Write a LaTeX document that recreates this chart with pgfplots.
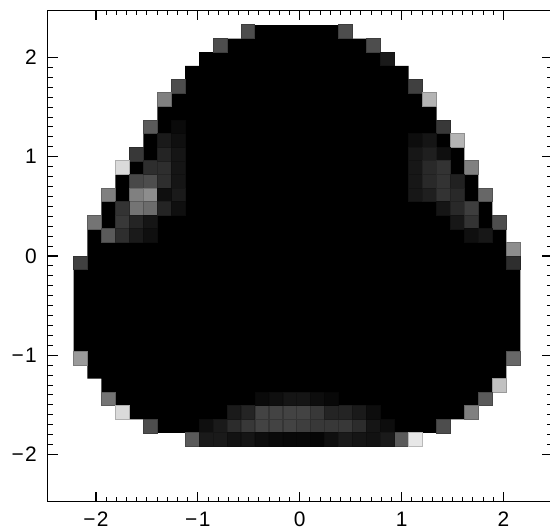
\documentclass[border=0pt]{standalone}
\usepackage{fontspec}
\setmainfont{Liberation Sans}
\usepackage{pgfplots}
\pgfplotsset{compat=1.18}
\begin{document}
\begin{tikzpicture}[x=1bp,y=1bp]
\useasboundingbox (0,0) rectangle (550,531);
\begin{axis}[
  at={(47.55bp,29.35bp)}, anchor=south west,
  scale only axis, width=504.4bp, height=491.3bp,
  xmin=-2.475, xmax=2.475, ymin=-2.475, ymax=2.475,
  xtick={-2,-1,0,1,2}, ytick={-2,-1,0,1,2},
  xticklabels={−\kern1.5pt 2,−\kern1.5pt 1,0,1,2},
  yticklabels={−\kern1.5pt 2,−\kern1.5pt 1,0,1,2},
  minor x tick num=9, minor y tick num=9,
  tick align=inside, tickpos=both,
  major tick length=10bp, minor tick length=5bp,
  tick style={black,line width=1.1bp},
  minor tick style={black,line width=1bp},
  axis line style={line width=1.1bp},
  axis on top,
  ticklabel style={font=\fontsize{21}{25}\selectfont},
  xticklabel style={inner sep=0pt,yshift=-10.5bp},
  yticklabel style={inner sep=0pt,xshift=-10.5bp},
  colormap={gr}{gray=(0) gray=(1)},
  point meta min=0, point meta max=1,
]
\addplot[fill=black,draw=none,forget plot] coordinates {
(-0.439,2.327)(0.383,2.327)(0.383,2.190)(0.657,2.190)(0.657,2.053)(0.931,2.053)(0.931,1.916)
(1.068,1.916)(1.068,1.642)(1.205,1.642)(1.205,1.505)(1.342,1.505)(1.342,1.231)(1.479,1.231)
(1.479,1.094)(1.616,1.094)(1.616,0.820)(1.753,0.820)(1.753,0.546)(1.890,0.546)(1.890,0.272)
(2.027,0.272)(2.027,-0.002)(2.164,-0.002)(2.164,-0.961)(2.027,-0.961)(2.027,-1.235)(1.890,-1.235)
(1.890,-1.372)(1.753,-1.372)(1.753,-1.509)(1.616,-1.509)(1.616,-1.646)(1.342,-1.646)(1.342,-1.783)
(0.931,-1.783)(0.931,-1.920)(-0.987,-1.920)(-0.987,-1.783)(-1.398,-1.783)(-1.398,-1.646)(-1.672,-1.646)
(-1.672,-1.509)(-1.809,-1.509)(-1.809,-1.372)(-1.946,-1.372)(-1.946,-1.235)(-2.083,-1.235)(-2.083,-0.961)
(-2.220,-0.961)(-2.220,-0.002)(-2.083,-0.002)(-2.083,0.272)(-1.946,0.272)(-1.946,0.546)(-1.809,0.546)
(-1.809,0.820)(-1.672,0.820)(-1.672,0.957)(-1.535,0.957)(-1.535,1.231)(-1.398,1.231)(-1.398,1.505)
(-1.261,1.505)(-1.261,1.642)(-1.124,1.642)(-1.124,1.916)(-0.987,1.916)(-0.987,2.053)(-0.713,2.053)
(-0.713,2.190)(-0.439,2.190)(-0.439,2.327)
} -- cycle;
\addplot[scatter,only marks,mark=square*,mark size=6.9bp,point meta=explicit,
  mark options={line width=0pt},forget plot] table[x index=0,y index=1,meta index=2] {
-0.5075 2.2585 0.30
0.4515 2.2585 0.30
-0.7815 2.1215 0.30
0.7255 2.1215 0.30
0.8625 1.9845 0.10
-1.1925 1.7105 0.30
1.1365 1.7105 0.25
-1.3295 1.5735 0.50
1.2735 1.5735 0.70
-1.4665 1.2995 0.35
1.4105 1.2995 0.22
1.5475 1.1625 0.70
-1.6035 1.0255 0.22
-1.7405 0.8885 0.85
1.6845 0.8885 0.50
-1.8775 0.6145 0.50
1.8215 0.6145 0.40
-2.0145 0.3405 0.45
1.9585 0.3405 0.30
2.0955 0.0665 0.55
-2.1515 -0.0705 0.25
2.0955 -0.0705 0.18
-2.1515 -1.0295 0.60
2.0955 -1.0295 0.40
1.9585 -1.3035 0.75
-1.8775 -1.4405 0.45
1.8215 -1.4405 0.35
-1.7405 -1.5775 0.85
1.6845 -1.5775 0.50
-1.4665 -1.7145 0.30
1.4105 -1.7145 0.30
-1.0555 -1.8515 0.35
0.9995 -1.8515 0.35
1.1365 -1.8515 0.90
-1.6035 0.7515 0.28
-1.4665 0.7515 0.30
-1.6035 0.6145 0.50
-1.4665 0.6145 0.55
-1.6035 0.4775 0.45
-1.4665 0.4775 0.42
-1.7405 0.4775 0.20
-1.7405 0.3405 0.22
-1.8775 0.2035 0.35
-1.7405 0.2035 0.18
-1.6035 0.3405 0.14
-1.4665 0.3405 0.08
-1.6035 0.2035 0.10
-1.4665 0.2035 0.06
-1.4665 0.8885 0.18
-1.3295 0.8885 0.18
-1.3295 0.7515 0.18
-1.1925 0.8885 0.08
-1.1925 0.7515 0.08
-1.1925 0.6145 0.10
-1.3295 0.6145 0.06
-1.3295 0.4775 0.14
-1.1925 0.4775 0.06
-1.3295 1.0255 0.14
-1.3295 1.1625 0.10
-1.1925 1.0255 0.08
-1.1925 1.1625 0.06
-1.1925 1.2995 0.04
1.1365 1.1625 0.05
1.2735 1.1625 0.08
1.4105 1.0255 0.06
1.1365 1.0255 0.09
1.1365 0.8885 0.09
1.1365 0.7515 0.09
1.1365 0.6145 0.09
1.2735 1.0255 0.12
1.2735 0.8885 0.16
1.2735 0.7515 0.16
1.2735 0.6145 0.12
1.4105 0.8885 0.20
1.4105 0.7515 0.20
1.4105 0.6145 0.20
1.4105 0.4775 0.08
1.5475 0.7515 0.13
1.5475 0.6145 0.16
1.5475 0.4775 0.16
1.5475 0.3405 0.09
1.6845 0.4775 0.24
1.6845 0.3405 0.20
1.6845 0.2035 0.06
1.8215 0.2035 0.09
-0.9185 -1.7145 0.06
-0.7815 -1.7145 0.10
-0.6445 -1.7145 0.17
-0.5075 -1.7145 0.22
-0.3705 -1.7145 0.26
-0.2335 -1.7145 0.26
-0.0965 -1.7145 0.26
0.0405 -1.7145 0.24
0.1775 -1.7145 0.22
0.3145 -1.7145 0.22
0.4515 -1.7145 0.22
0.5885 -1.7145 0.17
0.7255 -1.7145 0.08
0.8625 -1.7145 0.05
-0.6445 -1.5775 0.10
-0.5075 -1.5775 0.14
-0.3705 -1.5775 0.26
-0.2335 -1.5775 0.26
-0.0965 -1.5775 0.26
0.0405 -1.5775 0.26
0.1775 -1.5775 0.22
0.3145 -1.5775 0.14
0.4515 -1.5775 0.14
0.5885 -1.5775 0.10
0.7255 -1.5775 0.05
-0.3705 -1.4405 0.04
-0.2335 -1.4405 0.06
-0.0965 -1.4405 0.08
0.0405 -1.4405 0.08
0.1775 -1.4405 0.05
0.3145 -1.4405 0.03
-0.9185 -1.8515 0.10
-0.7815 -1.8515 0.10
-0.6445 -1.8515 0.07
-0.5075 -1.8515 0.08
-0.3705 -1.8515 0.05
-0.2335 -1.8515 0.04
-0.0965 -1.8515 0.03
0.0405 -1.8515 0.03
0.1775 -1.8515 0.02
0.3145 -1.8515 0.06
0.4515 -1.8515 0.10
0.5885 -1.8515 0.08
0.7255 -1.8515 0.07
0.8625 -1.8515 0.10
};
\end{axis}
\end{tikzpicture}
\end{document}
